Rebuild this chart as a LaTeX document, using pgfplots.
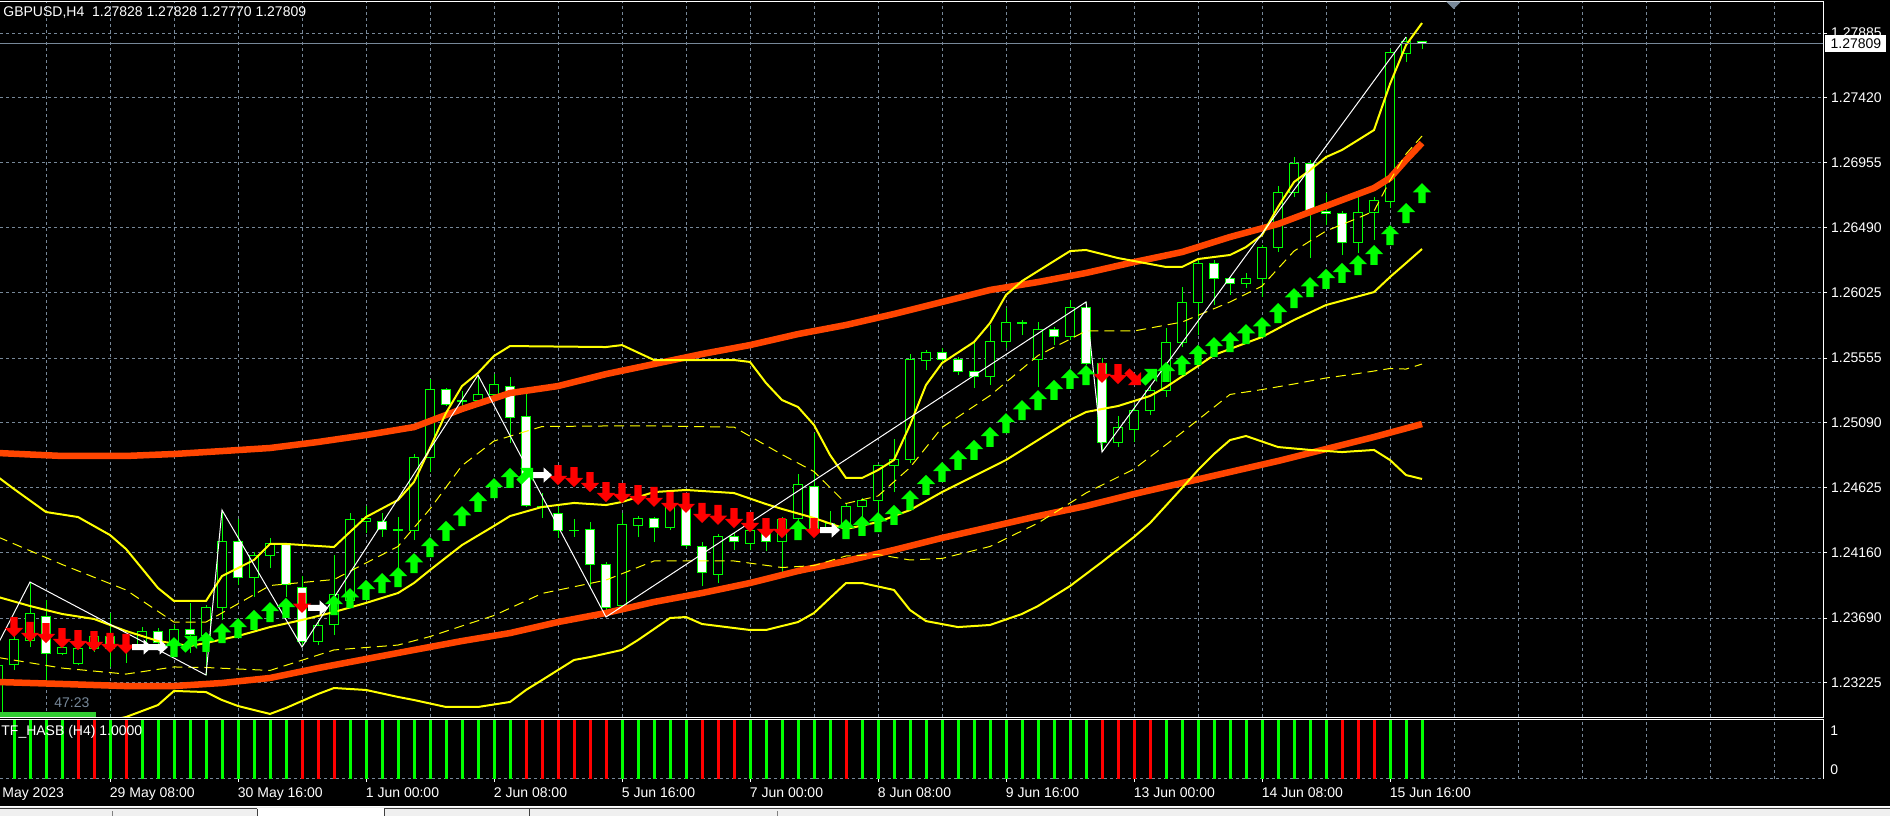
\documentclass[border=0pt]{standalone}
\usepackage{fontspec}
\setmainfont{Liberation Sans}
\usepackage{pgfplots}
\usepackage{pgfplotstable}
\pgfplotsset{compat=1.18}
\definecolor{lsg}{RGB}{119,136,153}
\definecolor{lime}{RGB}{0,255,0}
\definecolor{ored}{RGB}{255,69,0}
\definecolor{yel}{RGB}{255,255,0}
\definecolor{limeg}{RGB}{50,205,50}
\definecolor{tabgray}{RGB}{240,240,240}
\newcommand\mtf{\fontsize{7}{8}\selectfont}

\pgfdeclareplotmark{arrU}{%
\pgfpathmoveto{\pgfqpoint{0pt}{5pt}}\pgfpathlineto{\pgfqpoint{4.6pt}{0.4pt}}%
\pgfpathlineto{\pgfqpoint{1.8pt}{0.4pt}}\pgfpathlineto{\pgfqpoint{1.8pt}{-5pt}}%
\pgfpathlineto{\pgfqpoint{-1.8pt}{-5pt}}\pgfpathlineto{\pgfqpoint{-1.8pt}{0.4pt}}%
\pgfpathlineto{\pgfqpoint{-4.6pt}{0.4pt}}\pgfpathclose\pgfusepathqfill}
\pgfdeclareplotmark{arrD}{%
\pgfpathmoveto{\pgfqpoint{0pt}{-5pt}}\pgfpathlineto{\pgfqpoint{4.6pt}{-0.4pt}}%
\pgfpathlineto{\pgfqpoint{1.8pt}{-0.4pt}}\pgfpathlineto{\pgfqpoint{1.8pt}{5pt}}%
\pgfpathlineto{\pgfqpoint{-1.8pt}{5pt}}\pgfpathlineto{\pgfqpoint{-1.8pt}{-0.4pt}}%
\pgfpathlineto{\pgfqpoint{-4.6pt}{-0.4pt}}\pgfpathclose\pgfusepathqfill}
\pgfdeclareplotmark{arrR}{%
\pgfpathmoveto{\pgfqpoint{5pt}{0pt}}\pgfpathlineto{\pgfqpoint{0.8pt}{-3.8pt}}%
\pgfpathlineto{\pgfqpoint{0.8pt}{-1.5pt}}\pgfpathlineto{\pgfqpoint{-5pt}{-1.5pt}}%
\pgfpathlineto{\pgfqpoint{-5pt}{1.5pt}}\pgfpathlineto{\pgfqpoint{0.8pt}{1.5pt}}%
\pgfpathlineto{\pgfqpoint{0.8pt}{3.8pt}}\pgfpathclose\pgfusepathqfill}
\pgfdeclareplotmark{arrUR}{\pgftransformrotate{-45}\pgfuseplotmark{arrU}}
\pgfdeclareplotmark{arrDR}{\pgftransformrotate{45}\pgfuseplotmark{arrD}}

\pgfplotstableread{
i o h l c
-1 1.23017 1.23390 1.22995 1.23354
0 1.23361 1.23591 1.23318 1.23540
1 1.23533 1.23949 1.23483 1.23720
2 1.23705 1.23820 1.23232 1.23440
3 1.23440 1.23512 1.23426 1.23483
4 1.23368 1.23512 1.23354 1.23469
5 1.23469 1.23591 1.23447 1.23555
6 1.23555 1.23727 1.23340 1.23469
7 1.23483 1.23533 1.23368 1.23497
8 1.23483 1.23626 1.23462 1.23591
9 1.23591 1.23619 1.23483 1.23512
10 1.23512 1.23641 1.23476 1.23612
11 1.23612 1.23799 1.23440 1.23576
12 1.23569 1.23784 1.23282 1.23763
13 1.23763 1.24465 1.23677 1.24236
14 1.24236 1.24401 1.23928 1.23985
15 1.23985 1.24164 1.23842 1.24136
16 1.24136 1.24265 1.24049 1.24222
17 1.24222 1.24229 1.23842 1.23928
18 1.23913 1.23992 1.23483 1.23526
19 1.23519 1.23677 1.23497 1.23634
20 1.23641 1.24143 1.23569 1.23863
21 1.23820 1.24444 1.23784 1.24394
22 1.24386 1.24494 1.24300 1.24401
23 1.24386 1.24444 1.24272 1.24329
24 1.24329 1.24415 1.24035 1.24315
25 1.24315 1.24867 1.24250 1.24845
26 1.24845 1.25405 1.24738 1.25333
27 1.25333 1.25340 1.25211 1.25225
28 1.25240 1.25319 1.25211 1.25254
29 1.25254 1.25433 1.25240 1.25297
30 1.25297 1.25440 1.25268 1.25362
31 1.25354 1.25419 1.24946 1.25132
32 1.25139 1.25311 1.24487 1.24501
33 1.24494 1.24587 1.24408 1.24480
34 1.24437 1.24487 1.24265 1.24315
35 1.24322 1.24401 1.24272 1.24315
36 1.24329 1.24379 1.23913 1.24078
37 1.24078 1.24093 1.23698 1.23763
38 1.23784 1.24444 1.23748 1.24358
39 1.24351 1.24422 1.24272 1.24408
40 1.24401 1.24415 1.24236 1.24343
41 1.24343 1.24537 1.24322 1.24487
42 1.24487 1.24587 1.24193 1.24214
43 1.24207 1.24236 1.23920 1.24014
44 1.24006 1.24293 1.23942 1.24272
45 1.24272 1.24308 1.24179 1.24243
46 1.24222 1.24365 1.24179 1.24315
47 1.24300 1.24343 1.24171 1.24236
48 1.24236 1.24415 1.23999 1.24394
49 1.24401 1.24723 1.24358 1.24645
50 1.24637 1.25017 1.24322 1.24336
51 1.24322 1.24458 1.24300 1.24372
52 1.24372 1.24508 1.24322 1.24487
53 1.24487 1.24551 1.24415 1.24537
54 1.24537 1.24795 1.24322 1.24781
55 1.24781 1.24974 1.24594 1.24831
56 1.24831 1.25584 1.24802 1.25548
57 1.25534 1.25613 1.25469 1.25598
58 1.25598 1.25627 1.25527 1.25548
59 1.25548 1.25562 1.25433 1.25455
60 1.25455 1.25684 1.25340 1.25426
61 1.25426 1.25792 1.25362 1.25677
62 1.25677 1.25914 1.25627 1.25813
63 1.25813 1.25828 1.25720 1.25806
64 1.25548 1.25813 1.25347 1.25763
65 1.25763 1.25777 1.25648 1.25706
66 1.25706 1.25971 1.25684 1.25914
67 1.25914 1.25957 1.25505 1.25519
68 1.25519 1.25555 1.24881 1.24946
69 1.24946 1.25139 1.24917 1.25060
70 1.25046 1.25218 1.24953 1.25182
71 1.25182 1.25362 1.25146 1.25319
72 1.25319 1.25770 1.25276 1.25663
73 1.25663 1.26064 1.25634 1.25950
74 1.25950 1.26272 1.25720 1.26236
75 1.26236 1.26258 1.25935 1.26122
76 1.26122 1.26136 1.26007 1.26093
77 1.26093 1.26165 1.26057 1.26129
78 1.26129 1.26365 1.25993 1.26351
79 1.26351 1.26788 1.26315 1.26745
80 1.26745 1.26996 1.26710 1.26953
81 1.26953 1.26975 1.26272 1.26609
82 1.26609 1.26738 1.26509 1.26595
83 1.26595 1.26609 1.26294 1.26380
84 1.26380 1.26717 1.26308 1.26602
85 1.26602 1.26710 1.26401 1.26688
86 1.26681 1.27771 1.26631 1.27749
87 1.27742 1.27857 1.27677 1.27828
88 1.27828 1.27828 1.27770 1.27809
}\candles

\begin{document}
\begin{tikzpicture}
\begin{scope}[x=0.5pt,y=-0.5pt]
\fill[black] (0,0) rectangle (1890,816);
\end{scope}

% ---------------- main price panel ----------------
\begin{axis}[
  at={(0pt,-1pt)}, anchor=north west,
  width=911.5pt, height=357.5pt, scale only axis,
  xmin=-0.875, xmax=113.0625, ymin=1.22981, ymax=1.28108,
  axis line style={draw=none},
  xtick={2,6,...,110}, xticklabels={}, xtick style={draw=none},
  ytick={1.23225,1.23690,1.24160,1.24625,1.25090,1.25555,1.26025,1.26490,1.26955,1.27420,1.27885},
  yticklabels={1.23225,1.23690,1.24160,1.24625,1.25090,1.25555,1.26025,1.26490,1.26955,1.27420,1.27885},
  ytick pos=right, yticklabel pos=right,
  tick align=outside, major tick length=2pt,
  ytick style={draw=white, line width=0.5pt},
  yticklabel style={font=\mtf, text=white, anchor=west, inner sep=0pt, xshift=1.85pt},
  grid=major, grid style={draw=lsg, line width=0.5pt, dash pattern=on 1.5pt off 1.5pt},
  wick/.style={draw=lime, line width=0.5pt, mark=none},
]
% candles
\pgfplotsforeachungrouped \r in {0,...,89}{%
  \pgfplotstablegetelem{\r}{i}\of\candles \let\ci\pgfplotsretval
  \pgfplotstablegetelem{\r}{o}\of\candles \let\co\pgfplotsretval
  \pgfplotstablegetelem{\r}{h}\of\candles \let\ch\pgfplotsretval
  \pgfplotstablegetelem{\r}{l}\of\candles \let\cl\pgfplotsretval
  \pgfplotstablegetelem{\r}{c}\of\candles \let\cc\pgfplotsretval
  \ifdim\cc pt<\co pt \def\bodyfill{white}\else\def\bodyfill{black}\fi
  \pgfmathsetmacro{\xl}{\ci-0.3}\pgfmathsetmacro{\xr}{\ci+0.3}%
  \edef\temp{\noexpand\addplot[wick] coordinates {(\ci,\cl) (\ci,\ch)};
    \noexpand\addplot[draw=lime, fill=\bodyfill, line width=0.5pt, mark=none] coordinates {(\xl,\co) (\xr,\co) (\xr,\cc) (\xl,\cc) (\xl,\co)};}%
  \temp
}
% orange channel
\addplot[ored, line width=3.25pt, mark=none] coordinates {(-1,1.24874)(3,1.24853)(7,1.24853)(10,1.24867)(13,1.24888)(16,1.24910)(19,1.24953)(22,1.25003)(25,1.25060)(28,1.25190)(31,1.25304)(34,1.25354)(37,1.25440)(40,1.25512)(43,1.25584)(46,1.25648)(49,1.25727)(52,1.25792)(55,1.25871)(58,1.25957)(61,1.26043)(64,1.26100)(67,1.26165)(70,1.26243)(73,1.26315)(76,1.26423)(79,1.26516)(82,1.26645)(85,1.26774)(86,1.26846)(87,1.26975)(88,1.27097)};
\addplot[ored, line width=3.25pt, mark=none] coordinates {(-1,1.23232)(3,1.23218)(7,1.23203)(10,1.23203)(13,1.23225)(16,1.23261)(19,1.23332)(22,1.23397)(25,1.23462)(28,1.23526)(31,1.23583)(34,1.23662)(37,1.23727)(40,1.23806)(43,1.23870)(46,1.23942)(49,1.24028)(52,1.24100)(55,1.24179)(58,1.24265)(61,1.24343)(64,1.24422)(67,1.24494)(70,1.24580)(73,1.24659)(76,1.24738)(79,1.24817)(82,1.24903)(85,1.24989)(88,1.25082)};
% bollinger bands
\addplot[yel, line width=1pt, mark=none] coordinates {(-1,1.24702)(0,1.24616)(2,1.24451)(4,1.24415)(6,1.24286)(7,1.24186)(9,1.23906)(10,1.23813)(12,1.23813)(13,1.23992)(15,1.24107)(16,1.24222)(17,1.24222)(20,1.24200)(21,1.24308)(22,1.24415)(24,1.24537)(25,1.24666)(26,1.24910)(27,1.25161)(28,1.25354)(29,1.25448)(30,1.25570)(31,1.25641)(37,1.25634)(38,1.25648)(40,1.25541)(45,1.25541)(46,1.25527)(47,1.25376)(48,1.25254)(49,1.25204)(50,1.25075)(51,1.24860)(52,1.24695)(53,1.24695)(54,1.24752)(55,1.24824)(56,1.25075)(57,1.25362)(58,1.25519)(60,1.25670)(61,1.25806)(62,1.26007)(63,1.26107)(64,1.26179)(66,1.26322)(67,1.26330)(69,1.26272)(72,1.26208)(73,1.26208)(74,1.26265)(76,1.26294)(77,1.26351)(78,1.26437)(79,1.26638)(80,1.26817)(81,1.26903)(82,1.26996)(83,1.27047)(84,1.27118)(85,1.27190)(86,1.27520)(87,1.27799)(88,1.27957)};
\addplot[yel, line width=1pt, mark=none] coordinates {(-1,1.23842)(1,1.23777)(3,1.23720)(5,1.23684)(7,1.23598)(9,1.23526)(11,1.23490)(12,1.23512)(14,1.23562)(16,1.23626)(18,1.23677)(20,1.23734)(22,1.23799)(24,1.23870)(25,1.23942)(26,1.24035)(28,1.24214)(30,1.24351)(31,1.24422)(33,1.24487)(35,1.24516)(37,1.24501)(38,1.24523)(40,1.24594)(42,1.24609)(45,1.24587)(47,1.24508)(48,1.24473)(50,1.24408)(52,1.24329)(54,1.24379)(55,1.24422)(56,1.24465)(58,1.24594)(60,1.24709)(62,1.24824)(64,1.24967)(66,1.25111)(67,1.25168)(69,1.25211)(71,1.25283)(72,1.25347)(74,1.25498)(75,1.25577)(78,1.25706)(80,1.25828)(82,1.25935)(85,1.26028)(86,1.26136)(87,1.26236)(88,1.26337)};
\addplot[yel, line width=1pt, mark=none] coordinates {(-1,1.22974)(2,1.22952)(5,1.22931)(7,1.22981)(9,1.23067)(10,1.23168)(12,1.23160)(13,1.23103)(14,1.23060)(16,1.23003)(17,1.23046)(19,1.23146)(20,1.23189)(22,1.23175)(24,1.23125)(25,1.23103)(27,1.23053)(29,1.23053)(31,1.23089)(32,1.23175)(33,1.23246)(35,1.23390)(36,1.23411)(38,1.23462)(39,1.23533)(41,1.23691)(42,1.23698)(43,1.23648)(46,1.23605)(47,1.23605)(49,1.23662)(50,1.23727)(52,1.23942)(53,1.23942)(55,1.23892)(56,1.23748)(57,1.23669)(59,1.23626)(61,1.23641)(63,1.23720)(64,1.23777)(66,1.23920)(68,1.24093)(70,1.24272)(71,1.24372)(73,1.24623)(74,1.24752)(75,1.24867)(76,1.24967)(77,1.24996)(79,1.24917)(81,1.24896)(83,1.24881)(85,1.24896)(86,1.24824)(87,1.24716)(88,1.24688)};
\addplot[yel, line width=0.5pt, dash pattern=on 5pt off 3pt, mark=none] coordinates {(-1,1.24272)(3,1.24075)(7,1.23892)(10,1.23662)(12,1.23662)(16,1.23924)(20,1.23967)(24,1.24204)(26,1.24473)(28,1.24784)(30,1.24960)(33,1.25064)(37,1.25068)(40,1.25068)(45,1.25060)(48,1.24863)(50,1.24741)(52,1.24512)(54,1.24566)(56,1.24770)(58,1.25057)(61,1.25286)(64,1.25573)(67,1.25749)(70,1.25749)(73,1.25813)(76,1.25957)(78,1.26071)(80,1.26322)(82,1.26466)(84,1.26559)(85,1.26609)(86,1.26828)(87,1.27018)(88,1.27147)};
\addplot[yel, line width=0.5pt, dash pattern=on 5pt off 3pt, mark=none] coordinates {(-1,1.23408)(3,1.23332)(7,1.23289)(10,1.23340)(12,1.23336)(16,1.23315)(20,1.23462)(24,1.23497)(26,1.23558)(28,1.23634)(30,1.23709)(33,1.23867)(37,1.23963)(40,1.24100)(45,1.24100)(48,1.24053)(50,1.24067)(52,1.24136)(54,1.24146)(56,1.24107)(58,1.24118)(61,1.24204)(64,1.24372)(67,1.24587)(70,1.24759)(73,1.25021)(76,1.25294)(78,1.25329)(80,1.25369)(82,1.25412)(84,1.25444)(85,1.25462)(86,1.25480)(87,1.25476)(88,1.25512)};
% zigzag
\addplot[white, line width=0.5pt, mark=none] coordinates {(-1,1.23505)(1,1.23949)(12,1.23282)(13,1.24465)(18,1.23483)(29,1.25433)(37,1.23698)(67,1.25957)(68,1.24881)(87,1.27857)};
% current price line
\addplot[lsg, line width=0.5pt, mark=none] coordinates {(-0.875,1.27809)(113.0625,1.27809)};
% arrows
\addplot[only marks, mark=arrD, red, mark options={fill=red, draw=none}] coordinates {(-1,1.23619)(0,1.23626)(1,1.23591)(2,1.23583)(3,1.23547)(4,1.23533)(5,1.23526)(6,1.23512)(7,1.23505)(18,1.23799)(34,1.24716)(35,1.24702)(36,1.24666)(37,1.24594)(38,1.24587)(39,1.24573)(40,1.24559)(41,1.24523)(42,1.24516)(43,1.24444)(44,1.24430)(45,1.24408)(46,1.24379)(47,1.24336)(48,1.24336)(50,1.24336)(68,1.25448)(69,1.25440)};
\addplot[only marks, mark=arrDR, red, mark options={fill=red, draw=none}] coordinates {(70,1.25412)};
\addplot[only marks, mark=arrR, white, mark options={fill=white, draw=none}] coordinates {(8,1.23483)(9,1.23483)(19,1.23763)(33,1.24716)(51,1.24322)};
\addplot[only marks, mark=arrU, lime, mark options={fill=lime, draw=none}] coordinates {(10,1.23483)(12,1.23519)(13,1.23583)(14,1.23619)(15,1.23677)(16,1.23734)(17,1.23763)(20,1.23784)(21,1.23834)(22,1.23892)(23,1.23942)(24,1.23985)(25,1.24085)(26,1.24200)(27,1.24315)(28,1.24422)(29,1.24523)(30,1.24623)(31,1.24695)(49,1.24322)(52,1.24329)(53,1.24351)(54,1.24379)(55,1.24430)(56,1.24537)(57,1.24645)(58,1.24738)(59,1.24824)(60,1.24896)(61,1.24989)(62,1.25089)(63,1.25182)(64,1.25254)(65,1.25326)(66,1.25405)(67,1.25433)(72,1.25455)(73,1.25505)(74,1.25577)(75,1.25634)(76,1.25670)(77,1.25727)(78,1.25777)(79,1.25878)(80,1.25985)(81,1.26064)(82,1.26122)(83,1.26165)(84,1.26222)(85,1.26294)(86,1.26437)(87,1.26595)(88,1.26738)};
\addplot[only marks, mark=arrUR, lime, mark options={fill=lime, draw=none}] coordinates {(11,1.23512)(32,1.24716)(71,1.25426)};
\end{axis}

% ---------------- indicator sub panel ----------------
\begin{axis}[
  at={(0pt,-359.75pt)}, anchor=north west,
  width=911.5pt, height=29.5pt, scale only axis,
  xmin=-0.875, xmax=113.0625, ymin=0, ymax=1,
  axis line style={draw=none},
  xtick={2,6,...,110}, xticklabels={}, major tick length=0pt,
  ytick={0}, yticklabels={}, ytick style={draw=none},
  xtick pos=bottom,
  grid=major, grid style={draw=lsg, line width=0.5pt, dash pattern=on 1.5pt off 1.5pt},
  extra x ticks={6,14,22,30,38,46,54,62,70,78,86},
  extra x tick labels={29 May 08:00,30 May 16:00,1 Jun 00:00,2 Jun 08:00,5 Jun 16:00,7 Jun 00:00,8 Jun 08:00,9 Jun 16:00,13 Jun 00:00,14 Jun 08:00,15 Jun 16:00},
  extra x tick style={grid=none, major tick length=1.5pt, tick align=outside, tick style={draw=white, line width=0.5pt},
    xticklabel style={font=\mtf, text=white, anchor=north west, inner sep=0pt, xshift=-0.25pt, yshift=-2.75pt}},
]
\addplot[ycomb, lime, line width=1.5pt, mark=none] coordinates {(0,1)(1,1)(2,1)(3,1)(6,1)(8,1)(9,1)(10,1)(11,1)(12,1)(13,1)(14,1)(15,1)(16,1)(17,1)(21,1)(22,1)(23,1)(24,1)(25,1)(26,1)(27,1)(28,1)(29,1)(30,1)(31,1)(38,1)(39,1)(40,1)(41,1)(42,1)(46,1)(47,1)(48,1)(49,1)(50,1)(51,1)(53,1)(54,1)(55,1)(56,1)(57,1)(58,1)(59,1)(60,1)(61,1)(62,1)(63,1)(64,1)(65,1)(66,1)(67,1)(72,1)(73,1)(74,1)(75,1)(76,1)(77,1)(78,1)(79,1)(80,1)(81,1)(82,1)(86,1)(87,1)(88,1)};
\addplot[ycomb, red, line width=1.5pt, mark=none] coordinates {(4,1)(5,1)(7,1)(18,1)(19,1)(20,1)(32,1)(33,1)(34,1)(35,1)(36,1)(37,1)(43,1)(44,1)(45,1)(52,1)(68,1)(69,1)(70,1)(71,1)(83,1)(84,1)(85,1)};
\end{axis}

% ---------------- decorations (pixel coordinates) ----------------
\begin{scope}[x=0.5pt,y=-0.5pt]
\draw[white, line width=0.5pt] (0,1.5) -- (1823,1.5) -- (1823,717) -- (0,717);
\draw[white, line width=0.5pt] (0,719.5) -- (1823,719.5) -- (1823,778.5);
\fill[lsg] (1446,1.5) -- (1461,1.5) -- (1453.5,9) -- cycle;
\node[anchor=west, inner sep=0pt, text=white, font=\mtf] at (3,13) {GBPUSD,H4\ \ 1.27828 1.27828 1.27770 1.27809};
\fill[limeg] (0,712) rectangle (96,716.5);
\node[anchor=west, inner sep=0pt, text=lsg, font=\mtf] at (54,703) {47:23};
\node[anchor=west, inner sep=0pt, text=white, font=\mtf] at (1,732) {TF\_HASB (H4) 1.0000};
\node[anchor=west, inner sep=0pt, text=white, font=\mtf] at (1830,731) {1};
\node[anchor=west, inner sep=0pt, text=white, font=\mtf] at (1830,770) {0};
\node[anchor=north west, inner sep=0pt, text=white, font=\mtf] at (2,787) {May 2023};
\node[anchor=west, fill=white, text=black, font=\mtf, inner xsep=2.6pt, inner ysep=1.6pt, minimum height=8.5pt] at (1825,43.5) {1.27809};
% tab bar
\fill[tabgray] (0,806) rectangle (1890,816);
\draw[white, line width=0.5pt] (0,806.5) -- (1890,806.5);
\draw[black!75, line width=0.5pt] (0,808.5) -- (257,808.5) (384,808.5) -- (1890,808.5);
\fill[white] (257,808) rectangle (384,816);
\draw[black!75, line width=0.5pt] (257,808.5) -- (257,816) (384,808.5) -- (384,816) (529,808.5) -- (529,816);
\draw[black!50, line width=0.5pt] (112,811) -- (112,816) (777,811) -- (777,816);
\pgfresetboundingbox
\useasboundingbox (0,0) rectangle (1890,816);
\end{scope}
\end{tikzpicture}
\end{document}
